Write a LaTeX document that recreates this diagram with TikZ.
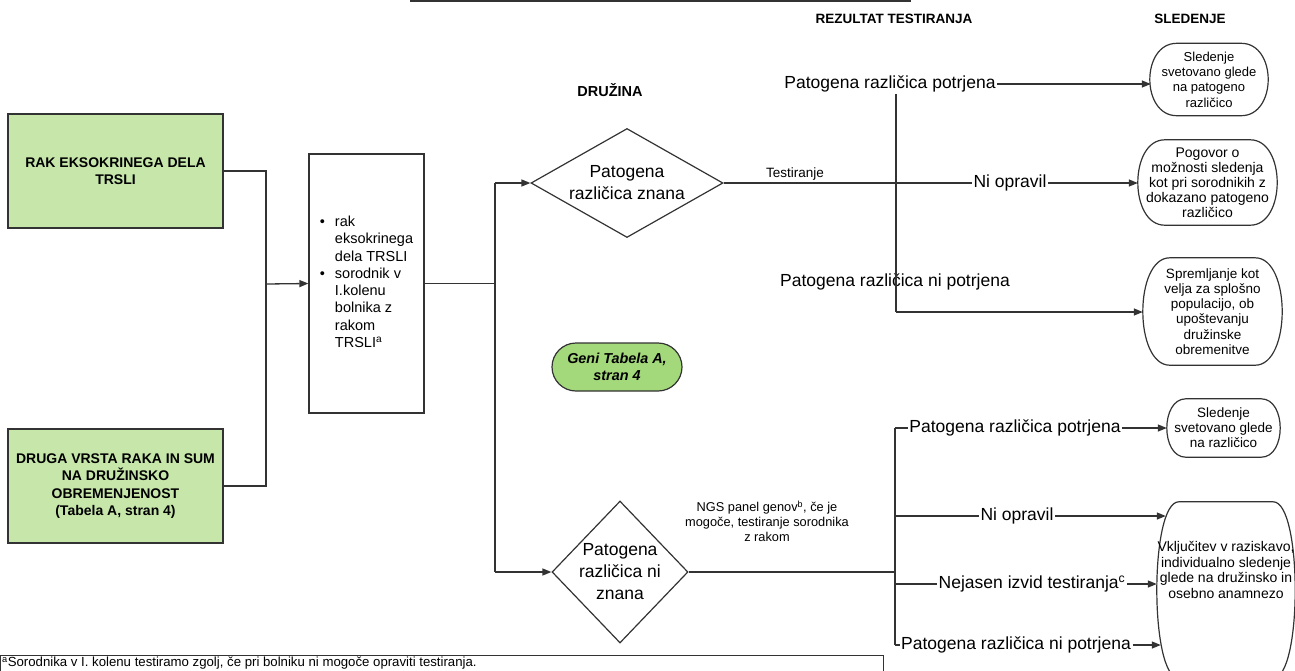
\documentclass[tikz,border=0pt]{standalone}
\usepackage{fontspec}
\setmainfont{Liberation Sans}
\usetikzlibrary{arrows.meta,shapes.geometric,calc}
\definecolor{boxgreen}{HTML}{C6E6AA}
\definecolor{pillgreen}{HTML}{A3D87B}
\definecolor{ln}{HTML}{333333}
\newcommand{\fs}[2]{\fontsize{#1}{#2}\selectfont}
% box with bulging curved sides, drawn around a named node
\newcommand{\cbox}[2]{%
  \draw[draw=ln, line width=1.2pt]
    ($(#1.north west)+(#2,0)$) -- ($(#1.north east)+(-#2,0)$)
    .. controls ($(#1.north east)+(#2/3,0)$) and ($(#1.south east)+(#2/3,0)$) .. ($(#1.south east)+(-#2,0)$)
    -- ($(#1.south west)+(#2,0)$)
    .. controls ($(#1.south west)+(-#2/3,0)$) and ($(#1.north west)+(-#2/3,0)$) .. cycle;}
\begin{document}
\begin{tikzpicture}[x=1pt,y=-1pt,
  line/.style={draw=ln, line width=1.3pt},
  arr/.style={line, -{Triangle[length=9pt,width=7pt]}},
  gbox/.style={draw=ln, line width=1.2pt, fill=boxgreen, font=\fs{14}{17.5}\bfseries, align=center, inner sep=0pt},
  wbox/.style={draw=ln, line width=1.2pt, inner sep=0pt},
  dia/.style={draw=ln, line width=1.2pt, diamond, inner sep=0pt, align=center, font=\fs{17.5}{22}},
  rbox/.style={align=center, inner sep=0pt, font=\fs{13}{15.3}},
  lab/.style={font=\fs{17.5}{21}, inner sep=1.5pt},
  hdr/.style={font=\fs{13.5}{16}\bfseries, inner sep=0pt},
]
\useasboundingbox (0,0) rectangle (1295,670);

% cut-off box at top
\node[wbox, minimum width=500pt, minimum height=20pt, anchor=south west] (topbox) at (410,1.5) {};

% headers
\node[hdr, font=\fs{14.5}{17}\bfseries] (hfam) at (610,90) {DRUŽINA};
\node[hdr] (hres) at (894,19) {REZULTAT TESTIRANJA};
\node[hdr] (hsle) at (1190,19) {SLEDENJE};

% green boxes
\node[gbox, minimum width=215pt, minimum height=114pt] (g1) at (115.5,171) {RAK EKSOKRINEGA DELA\\TRSLI};
\node[gbox, minimum width=215pt, minimum height=114pt] (g2) at (115.5,486) {DRUGA VRSTA RAKA IN SUM\\NA DRUŽINSKO\\OBREMENJENOST\\(Tabela A, stran 4)};

% middle box
\node[wbox, minimum width=115pt, minimum height=259pt, font=\fs{14.5}{17.3}] (m) at (366.5,283.5) {%
\begin{tabular}{@{}l@{\hspace{10pt}}l@{}}
\textbullet & rak\\
 & eksokrinega\\
 & dela TRSLI\\
\textbullet & sorodnik v\\
 & I.kolenu\\
 & bolnika z\\
 & rakom\\
 & TRSLI\textsuperscript{a}
\end{tabular}};

% diamonds
\node[dia, aspect=1.76, minimum width=192pt, minimum height=109pt] (d1) at (627,183) {Patogena\\različica znana};
\node[dia, aspect=0.96, minimum width=136pt, minimum height=142pt] (d2) at (620,572) {Patogena\\različica ni\\znana};

% pill
\node[draw=ln, line width=1.2pt, fill=pillgreen, rounded corners=24pt, minimum width=130pt, minimum height=48pt, inner sep=0pt, align=center, font=\fs{14.4}{17}\bfseries\itshape] (pill) at (617,367) {Geni Tabela A,\\stran 4};

% right boxes
\node[rbox, minimum width=118pt, minimum height=72pt] (r1) at (1209,79.5) {Sledenje\\svetovano glede\\na patogeno\\različico};
\cbox{r1}{27}
\node[rbox, minimum width=139pt, minimum height=85pt, font=\fs{14}{15}] (r2) at (1207.5,182.5) {Pogovor o\\možnosti sledenja\\kot pri sorodnikih z\\dokazano patogeno\\različico};
\cbox{r2}{27}
\node[rbox, minimum width=139pt, minimum height=107pt, font=\fs{13.5}{15.3}] (r3) at (1212.5,311.5) {Spremljanje kot\\velja za splošno\\populacijo, ob\\upoštevanju\\družinske\\obremenitve};
\cbox{r3}{27}
\node[rbox, minimum width=113pt, minimum height=58pt, font=\fs{13.5}{15}] (r4) at (1223.5,428) {Sledenje\\svetovano glede\\na različico};
\cbox{r4}{19}
\node[rbox, minimum width=138pt, minimum height=176pt] (r5) at (1226,590) {};
\cbox{r5}{22}
\node[align=center, inner sep=0pt, font=\fs{14}{15.5}] (r5t) at (1226,570) {Vključitev v raziskavo,\\individualno sledenje\\glede na družinsko in\\osebno anamnezo};

% labels
\node[font=\fs{13.5}{16}, inner sep=0pt] (ltest) at (795,174) {Testiranje};
\node[lab] (n1) at (1010,183) {Ni opravil};
\node[lab] (p1) at (890,84) {Patogena različica potrjena};
\node[lab] (p2) at (895,282) {Patogena različica ni potrjena};
\node[align=center, inner sep=0pt, font=\fs{12.8}{15}] (ngs) at (767,521) {NGS panel genov\textsuperscript{b}, če je\\mogoče, testiranje sorodnika\\z rakom};
\node[lab] (q1) at (1015,428) {Patogena različica potrjena};
\node[lab] (q2) at (1017,516) {Ni opravil};
\node[lab] (q3) at (1032,584) {Nejasen izvid testiranja\textsuperscript{c}};
\node[lab] (q4) at (1016,645) {Patogena različica ni potrjena};

% footnote
\node[wbox, minimum width=883pt, minimum height=60pt, anchor=north west] (fnbox) at (0,654.5) {};
\node[anchor=south west, inner sep=0pt, font=\fs{13.2}{15}] (fn) at (2,669.3) {\textsuperscript{a}Sorodnika v I. kolenu testiramo zgolj, če pri bolniku ni mogoče opraviti testiranja.};

% coordinates
\coordinate (jg) at (266,284);
\coordinate (j1) at (495,183);
\coordinate (j2) at (495,572);
\coordinate (c3) at (896,312);
\coordinate (b0) at (895,428);
\coordinate (b4) at (895,645);

% connectors left
\draw[line] (g1.east) -| (jg);
\draw[line] (g2.east) -| (jg);
\draw[arr] (jg) -- (m.west);
\draw[line] (m.east) -- (m.east -| j1);
\draw[line] (j1) -- (j2);
\draw[arr] (j1) -- (d1.west);
\draw[arr] (j2) -- (d2.west);

% upper branch
\draw[line] (d1.east) -- (n1.west);
\draw[arr] (n1.east) -- (n1.east -| r2.west);
\draw[line] (p1.south -| c3) -- (c3);
\draw[arr] (p1.east) -- ([xshift=1pt]p1.east -| r1.west);
\draw[arr] (c3) -- (c3 -| r3.west);

% lower branch
\draw[line] (d2.east) -- (d2.east -| b0);
\draw[line] (b0) -- (b4);
\draw[line] (b0) -- (q1.west);
\draw[arr] (q1.east) -- (q1.east -| r4.west);
\draw[line] (q2.west -| b0) -- (q2.west);
\draw[arr] (q2.east) -- ([xshift=9pt]q2.east -| r5.west);
\draw[line] (q3.west -| b0) -- (q3.west);
\draw[arr] (q3.east) -- (q3.east -| r5.west);
\draw[line] (b4) -- (q4.west);
\draw[arr] (q4.east) -- ([xshift=4pt]q4.east -| r5.west);
\end{tikzpicture}
\end{document}
